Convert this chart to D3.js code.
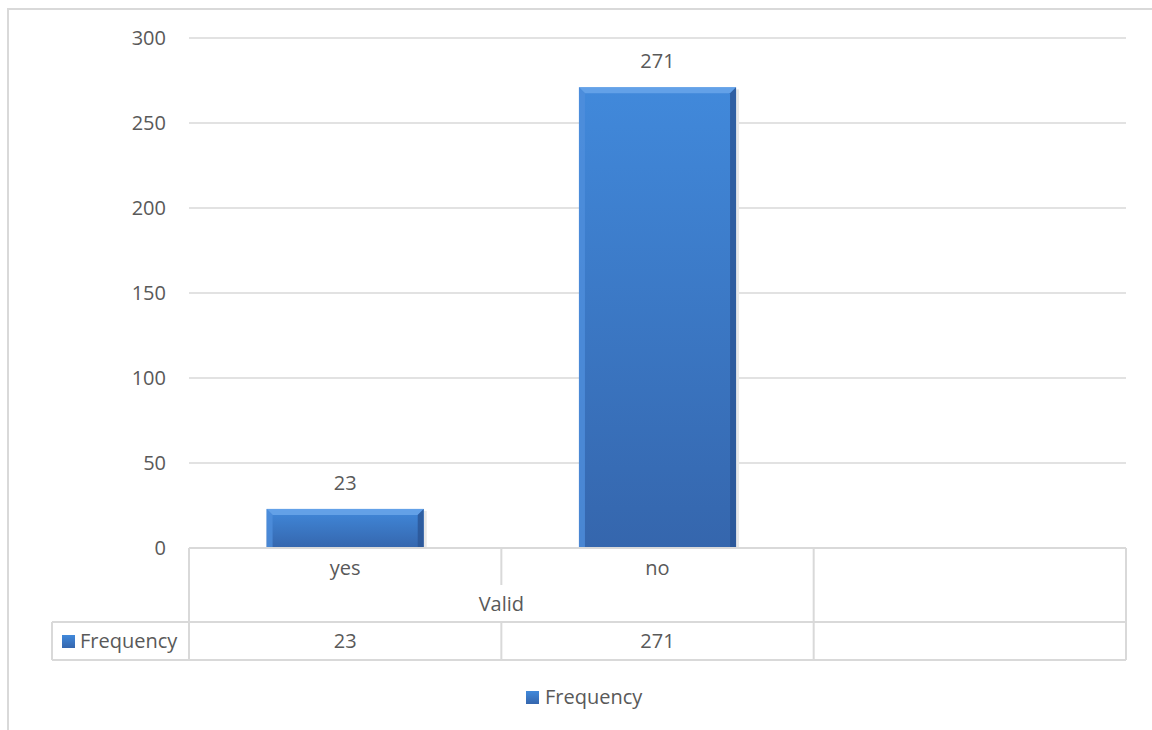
<!DOCTYPE html>
<html>
<head>
<meta charset="utf-8">
<script src="https://cdn.jsdelivr.net/npm/d3@7"></script>
<style>
  body { margin: 0; background: #fff; }
  svg text { font-family: "Open Sans", "Noto Sans", sans-serif; fill: #595959; }
</style>
</head>
<body>
<svg id="chart" width="1152" height="730"></svg>
<script>
// Chart data
const categories = ['yes', 'no', ''];
const groupLabel = 'Valid';
const seriesName = 'Frequency';
const frequency = [23, 271, null];
const yTicks = [0, 50, 100, 150, 200, 250, 300];

const margin = { top: 38, left: 189, right: 26 };
const plotH = 510;
const width = 1152 - margin.left - margin.right;
const fs = '20px';

const svg = d3.select('#chart');

// outer chart frame
svg.append('rect')
    .attr('x', 8).attr('y', 9)
    .attr('width', 1160).attr('height', 740)
    .attr('fill', 'none')
    .attr('stroke', '#d9d9d9')
    .attr('stroke-width', 2);

const defs = svg.append('defs');
const grad = defs.append('linearGradient')
    .attr('id', 'barFill')
    .attr('x1', 0).attr('y1', 0).attr('x2', 0).attr('y2', 1);
grad.append('stop').attr('offset', '0%').attr('stop-color', '#4189db');
grad.append('stop').attr('offset', '100%').attr('stop-color', '#3566ad');

const g = svg.append('g')
    .attr('transform', `translate(${margin.left},${margin.top})`);

const x = d3.scaleBand()
    .domain(d3.range(categories.length))
    .range([0, width])
    .paddingInner(0)
    .paddingOuter(0);

const y = d3.scaleLinear()
    .domain([0, 300])
    .range([plotH, 0]);

// gridlines
g.append('g')
    .selectAll('line')
    .data(yTicks)
    .enter().append('line')
    .attr('x1', 0).attr('x2', width)
    .attr('y1', d => y(d)).attr('y2', d => y(d))
    .attr('stroke', '#d9d9d9')
    .attr('stroke-width', 1.3);

// y axis labels
const yAxis = g.append('g')
    .call(d3.axisLeft(y).tickValues(yTicks).tickSize(0).tickPadding(23));
yAxis.select('.domain').remove();
yAxis.selectAll('text')
    .style('font-size', fs)
    .style('font-family', '"Open Sans", sans-serif')
    .attr('fill', '#595959');

// bars with bevel
const barW = x.bandwidth() * 0.503;
const bev = 6;
const bars = g.selectAll('.bar')
  .data(frequency.map((v, i) => ({ v, i })).filter(d => d.v != null))
  .enter().append('g')
    .attr('class', 'bar');

bars.append('rect')
    .attr('x', d => x(d.i) + (x.bandwidth() - barW) / 2 + 3)
    .attr('y', d => y(d.v) + 2)
    .attr('width', barW)
    .attr('height', d => plotH - y(d.v) - 2)
    .attr('fill', '#e8e8e8');

bars.append('rect')
    .attr('x', d => x(d.i) + (x.bandwidth() - barW) / 2)
    .attr('y', d => y(d.v))
    .attr('width', barW)
    .attr('height', d => plotH - y(d.v))
    .attr('fill', 'url(#barFill)');

// top bevel
bars.append('path')
    .attr('d', d => {
      const x0 = x(d.i) + (x.bandwidth() - barW) / 2, x1 = x0 + barW, y0 = y(d.v);
      return `M${x0},${y0}L${x1},${y0}L${x1 - bev},${y0 + bev}L${x0 + bev},${y0 + bev}Z`;
    })
    .attr('fill', '#6aa6ea').attr('opacity', 0.85);
// left bevel
bars.append('path')
    .attr('d', d => {
      const x0 = x(d.i) + (x.bandwidth() - barW) / 2, y0 = y(d.v);
      return `M${x0},${y0}L${x0 + bev},${y0 + bev}L${x0 + bev},${plotH}L${x0},${plotH}Z`;
    })
    .attr('fill', '#4f8fdc').attr('opacity', 0.8);
// right bevel
bars.append('path')
    .attr('d', d => {
      const x1 = x(d.i) + (x.bandwidth() + barW) / 2, y0 = y(d.v);
      return `M${x1},${y0}L${x1 - bev},${y0 + bev}L${x1 - bev},${plotH}L${x1},${plotH}Z`;
    })
    .attr('fill', '#2a5595').attr('opacity', 0.8);

// value labels
g.selectAll('.val')
  .data(frequency.map((v, i) => ({ v, i })).filter(d => d.v != null))
  .enter().append('text')
    .attr('x', d => x(d.i) + x.bandwidth() / 2)
    .attr('y', d => y(d.v) - 19)
    .attr('text-anchor', 'middle')
    .style('font-size', fs)
    .text(d => d.v);

// data table below axis
const rowCat = plotH + 74;     // bottom of category block
const rowEnd = plotH + 112;    // bottom of data row
const tbl = g.append('g').attr('stroke', '#d9d9d9').attr('stroke-width', 2).attr('fill', 'none');
tbl.append('line').attr('x1', 0).attr('x2', width).attr('y1', plotH).attr('y2', plotH);
tbl.append('line').attr('x1', -137).attr('x2', width).attr('y1', rowCat).attr('y2', rowCat);
tbl.append('line').attr('x1', -137).attr('x2', width).attr('y1', rowEnd).attr('y2', rowEnd);
tbl.append('line').attr('x1', -137).attr('x2', -137).attr('y1', rowCat).attr('y2', rowEnd);
tbl.append('line').attr('x1', 0).attr('x2', 0).attr('y1', plotH).attr('y2', rowEnd);
tbl.append('line').attr('x1', width).attr('x2', width).attr('y1', plotH).attr('y2', rowEnd);
// separators between categories
tbl.selectAll('.sep')
  .data(d3.range(1, categories.length))
  .enter().append('line')
    .attr('x1', d => x(d)).attr('x2', d => x(d))
    .attr('y1', plotH)
    .attr('y2', d => d < 2 ? plotH + 37 : rowEnd);
// lower part of first separator (data row)
tbl.append('line')
    .attr('x1', x(1)).attr('x2', x(1))
    .attr('y1', rowCat).attr('y2', rowEnd);

g.selectAll('.cat')
  .data(categories)
  .enter().append('text')
    .attr('x', (d, i) => x(i) + x.bandwidth() / 2)
    .attr('y', plotH + 27)
    .attr('text-anchor', 'middle')
    .style('font-size', fs)
    .text(d => d);

g.append('text')
    .attr('x', x.bandwidth())
    .attr('y', plotH + 63)
    .attr('text-anchor', 'middle')
    .style('font-size', fs)
    .text(groupLabel);

g.selectAll('.cell')
  .data(frequency)
  .enter().append('text')
    .attr('x', (d, i) => x(i) + x.bandwidth() / 2)
    .attr('y', rowCat + 26)
    .attr('text-anchor', 'middle')
    .style('font-size', fs)
    .text(d => d == null ? '' : d);

// row header with key
g.append('rect')
    .attr('x', -127).attr('y', rowCat + 13)
    .attr('width', 13).attr('height', 13)
    .attr('fill', 'url(#barFill)');
g.append('text')
    .attr('x', -109)
    .attr('y', rowCat + 26)
    .style('font-size', fs)
    .text(seriesName);

// legend
const legend = svg.append('g').attr('transform', 'translate(526,691)');
legend.append('rect')
    .attr('width', 13).attr('height', 13)
    .attr('fill', 'url(#barFill)');
legend.append('text')
    .attr('x', 19).attr('y', 13)
    .style('font-size', fs)
    .text(seriesName);
</script>
</body>
</html>
